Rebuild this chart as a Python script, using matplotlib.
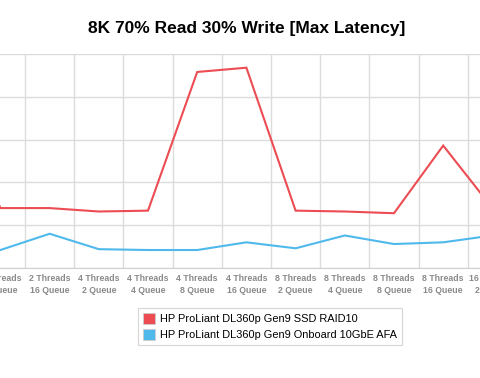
import matplotlib
matplotlib.use("Agg")
from matplotlib import pyplot as plt
from matplotlib.patches import Patch

plt.rcParams['font.family'] = ['Liberation Sans', 'DejaVu Sans']

# categories (the chart is cropped on both sides)
categories = ["2 Threads\n4 Queue", "2 Threads\n8 Queue", "2 Threads\n16 Queue",
              "4 Threads\n2 Queue", "4 Threads\n4 Queue", "4 Threads\n8 Queue",
              "4 Threads\n16 Queue", "8 Threads\n2 Queue", "8 Threads\n4 Queue",
              "8 Threads\n8 Queue", "8 Threads\n16 Queue", "16 Threads\n2 Queue",
              "16 Threads\n4 Queue"]
ssd_raid10 = [200, 70, 70, 66, 67, 229, 234, 67, 66, 64, 143, 70, 70]
onboard_afa = [25, 21, 40, 22, 21, 21, 30, 23, 38, 28, 30, 38, 30]
series_names = ["HP ProLiant DL360p Gen9 SSD RAID10",
                "HP ProLiant DL360p Gen9 Onboard 10GbE AFA"]
red = "#ec4c52"
blue = "#4fb9ec"

fig = plt.figure(figsize=(4.8, 3.78), dpi=100)
# plot area runs past both figure edges, like the cropped original
px0, px1 = -60, 540
ax = fig.add_axes([px0 / 480, 1 - 268 / 378, (px1 - px0) / 480, (268 - 54) / 378])

x = list(range(len(categories)))
ax.plot(x, ssd_raid10, color=red, lw=1.5, solid_joinstyle="miter")
ax.plot(x, onboard_afa, color=blue, lw=1.5, solid_joinstyle="miter")

ax.set_xticks(x)
ax.set_xticklabels(categories, fontsize=6.3, fontweight="bold", color="#8a8a8a",
                   linespacing=1.35)
ax.set_xticks([i + 0.5 for i in x], minor=True)
ax.tick_params(axis="x", which="both", length=0, pad=4.5)
ax.set_yticks([0, 50, 100, 150, 200, 250])
ax.tick_params(axis="y", length=0, labelleft=False)
ax.grid(True, which="minor", axis="x", color="#dcdcdc", lw=1)
ax.grid(True, which="major", axis="y", color="#dcdcdc", lw=1)
ax.set_axisbelow(True)
for s in ["left", "right", "top"]:
    ax.spines[s].set_visible(False)
ax.spines["bottom"].set_color("#d0d0d0")

step = 49.2
left = 1 - (0.4 - px0) / step
ax.set_xlim(left, left + (px1 - px0) / step)
ax.set_ylim(0, 250)

fig.text(247 / 480, 1 - 28 / 378, "8K 70% Read 30% Write [Max Latency]",
         ha="center", va="center", fontsize=12.5, fontweight="bold")

handles = [Patch(facecolor=red, edgecolor="#cccccc", lw=0.6),
           Patch(facecolor=blue, edgecolor="#cccccc", lw=0.6)]
leg = fig.legend(handles, series_names, loc="center",
                 bbox_to_anchor=(270 / 480, 1 - 326.5 / 378),
                 fontsize=7.9, frameon=True, fancybox=False,
                 handlelength=1.1, handleheight=1.1, handletextpad=0.5,
                 labelspacing=0.45, borderpad=0.45)
leg.get_frame().set_edgecolor("#cccccc")
leg.get_frame().set_linewidth(0.8)

fig.savefig("out.png", dpi=100)
